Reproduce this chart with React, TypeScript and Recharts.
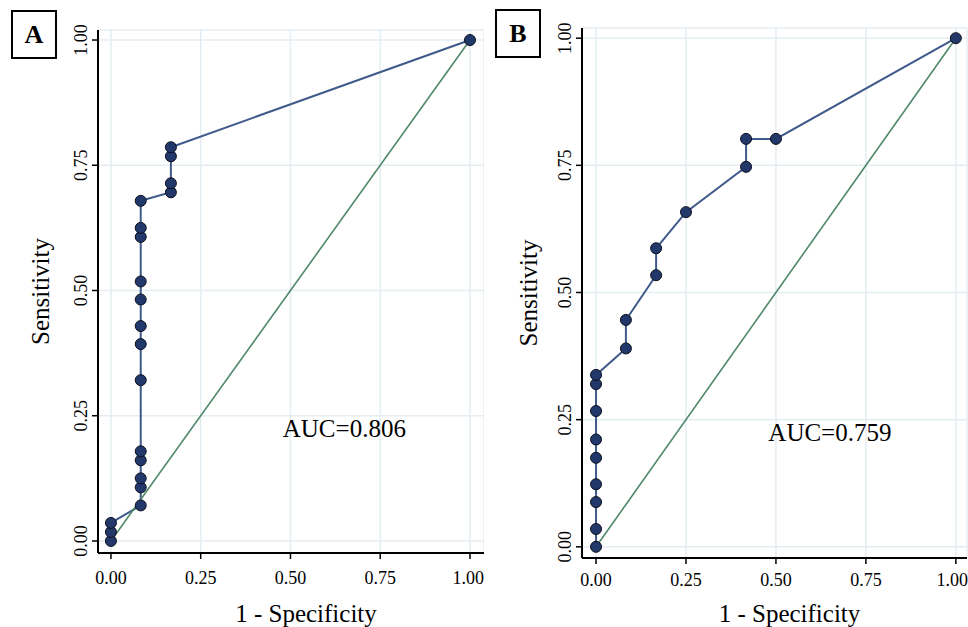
import React from 'react';
import { LineChart, Line, XAxis, YAxis, CartesianGrid, ReferenceDot, Label } from 'recharts';

// panel A: 1 - specificity / sensitivity
const fprA = [0, 0, 0, 0.083, 0.083, 0.083, 0.083, 0.083, 0.083, 0.083, 0.083, 0.083, 0.083, 0.083, 0.083, 0.083, 0.167, 0.167, 0.167, 0.167, 1];
const tprA = [0, 0.018, 0.036, 0.071, 0.107, 0.125, 0.161, 0.179, 0.321, 0.393, 0.429, 0.482, 0.518, 0.607, 0.625, 0.679, 0.696, 0.714, 0.768, 0.786, 1];

// panel B
const fprB = [0, 0, 0, 0, 0, 0, 0, 0, 0, 0.083, 0.083, 0.167, 0.167, 0.25, 0.417, 0.417, 0.5, 1];
const tprB = [0, 0.035, 0.088, 0.123, 0.175, 0.211, 0.267, 0.32, 0.338, 0.39, 0.446, 0.534, 0.587, 0.658, 0.747, 0.802, 0.802, 1];

const diagX = [0, 1];
const diagY = [0, 1];
const axisTicks = [0, 0.25, 0.5, 0.75, 1];

const FONT = '"Liberation Serif", "Times New Roman", serif';

const YTick = (props: any) => {
  const { x, y, payload } = props;
  return (
    <text x={x} y={y} transform={`rotate(-90 ${x} ${y})`} textAnchor="middle" fill="#000" fontSize={18} fontFamily={FONT}>
      {payload.value.toFixed(2)}
    </text>
  );
};

const RocDot = (props: any) => {
  const { cx, cy } = props;
  return <circle cx={cx} cy={cy} r={5.5} fill="#22386a" stroke="#0a0f1e" strokeWidth={1} />;
};

interface PanelProps {
  fpr: number[];
  tpr: number[];
  auc: string;
  xDomain: [number, number];
  yDomain: [number, number];
  top: number;
  right: number;
  xAxisHeight: number;
  xTickMargin: number;
  yLabelDx: number;
}

function RocPanel({ fpr, tpr, auc, xDomain, yDomain, top, right, xAxisHeight, xTickMargin, yLabelDx }: PanelProps) {
  const roc = fpr.map((x, i) => ({ x, y: tpr[i] }));
  const diag = diagX.map((x, i) => ({ x, y: diagY[i] }));
  return (
    <LineChart width={484} height={627} margin={{ top, right, left: 0, bottom: 0 }}>
      <CartesianGrid stroke="#e4edf1" strokeWidth={1.5} />
      <XAxis
        type="number"
        dataKey="x"
        domain={xDomain}
        ticks={axisTicks}
        tickFormatter={(v: number) => v.toFixed(2)}
        height={xAxisHeight}
        tickSize={6}
        tickMargin={xTickMargin}
        axisLine={{ stroke: '#000', strokeWidth: 2 }}
        tickLine={{ stroke: '#000', strokeWidth: 1.5 }}
        tick={{ fill: '#000', fontSize: 18, fontFamily: FONT }}
      >
        <Label value="1 - Specificity" position="insideBottom" offset={5} dx={15} fill="#000" fontSize={25} fontFamily={FONT} />
      </XAxis>
      <YAxis
        type="number"
        dataKey="y"
        domain={yDomain}
        ticks={axisTicks}
        width={98}
        tickSize={6}
        tickMargin={5}
        axisLine={{ stroke: '#000', strokeWidth: 2 }}
        tickLine={{ stroke: '#000', strokeWidth: 1.5 }}
        tick={<YTick />}
      >
        <Label value="Sensitivity" angle={-90} position="center" dx={yLabelDx} fill="#000" fontSize={25} fontFamily={FONT} />
      </YAxis>
      <Line
        data={roc}
        dataKey="y"
        stroke="#3f5a8a"
        strokeWidth={2}
        dot={<RocDot />}
        activeDot={false}
        isAnimationActive={false}
      />
      <Line
        data={diag}
        dataKey="y"
        stroke="#4e8868"
        strokeWidth={1.6}
        dot={false}
        activeDot={false}
        isAnimationActive={false}
      />
      <ReferenceDot x={0.65} y={0.225} r={0} fill="none" stroke="none">
        <Label value={auc} position="center" fill="#000" fontSize={25} fontFamily={FONT} />
      </ReferenceDot>
    </LineChart>
  );
}

const boxStyle: React.CSSProperties = {
  position: 'absolute',
  width: 42,
  height: 45,
  border: '2px solid #000',
  display: 'flex',
  alignItems: 'center',
  justifyContent: 'center',
  fontFamily: FONT,
  fontWeight: 700,
  fontSize: 26,
  background: '#fff',
};

export default function App() {
  return (
    <div style={{ position: 'fixed', left: 0, top: 0, width: 968, height: 627, background: '#fff' }}>
      <div style={{ position: 'absolute', left: 0, top: 0 }}>
        <RocPanel
          fpr={fprA}
          tpr={tprA}
          auc="AUC=0.806"
          xDomain={[-0.036, 1.039]}
          yDomain={[-0.024, 1.02]}
          top={30}
          right={0}
          xAxisHeight={74}
          xTickMargin={12}
          yLabelDx={-9}
        />
      </div>
      <div style={{ position: 'absolute', left: 484, top: 0 }}>
        <RocPanel
          fpr={fprB}
          tpr={tprB}
          auc="AUC=0.759"
          xDomain={[-0.039, 1.031]}
          yDomain={[-0.022, 1.02]}
          top={28}
          right={1}
          xAxisHeight={69}
          xTickMargin={9}
          yLabelDx={-5}
        />
      </div>
      <div style={{ ...boxStyle, left: 11, top: 10 }}>A</div>
      <div style={{ ...boxStyle, left: 495, top: 9 }}>B</div>
    </div>
  );
}
